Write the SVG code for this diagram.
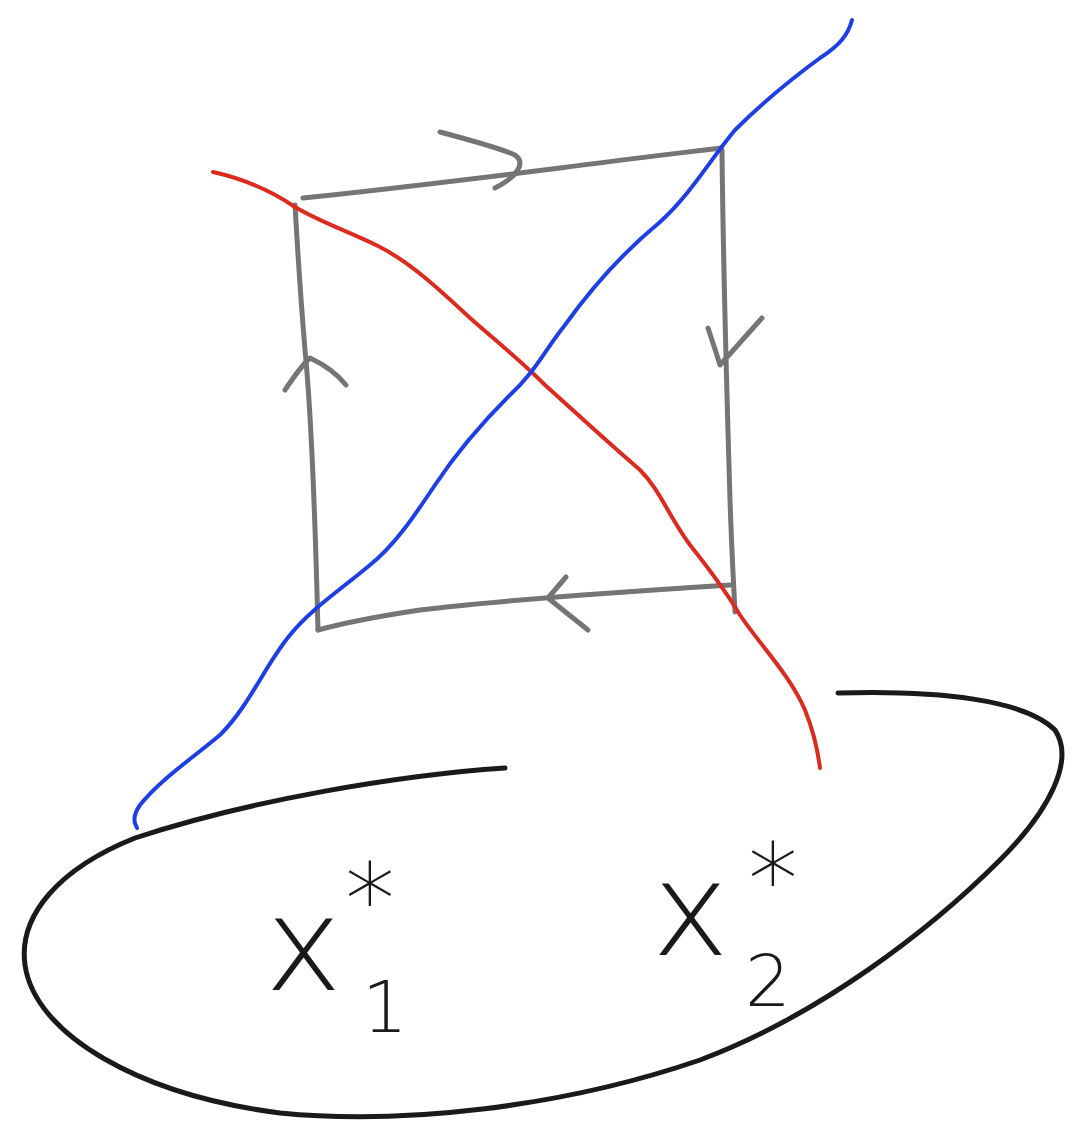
<svg xmlns="http://www.w3.org/2000/svg" width="1072" height="1125" viewBox="0 0 1072 1125">
<style>
.g{fill:none;stroke:#757575;stroke-width:5;stroke-linecap:round;stroke-linejoin:round}
.r{fill:none;stroke:#dd2a1e;stroke-width:4;stroke-linecap:round;stroke-linejoin:round}
.b{fill:none;stroke:#1f3fe6;stroke-width:4;stroke-linecap:round;stroke-linejoin:round}
.k{fill:none;stroke:#1a1a1a;stroke-width:5;stroke-linecap:round;stroke-linejoin:round}
.t{font-family:"DejaVu Sans","Liberation Sans",sans-serif;font-weight:200;fill:#1a1a1a}
</style>
<rect width="1072" height="1125" fill="#ffffff"/>
<g id="region">
<path class="k" d="M505,768 C400,775 250,800 135,838 C60,868 18,915 25,965 C35,1035 140,1095 280,1113 C400,1125 560,1108 700,1060 C820,1015 930,930 1000,860 C1050,810 1075,760 1055,730 C1025,700 940,690 838,693"/>
</g>
<g id="loop">
<path class="g" d="M303,198 C400,188 480,178 560,168 C620,160 680,153 721,148"/>
<path class="g" d="M722,150 C723,250 727,400 730,500 C732,560 734,590 735,612"/>
<path class="g" d="M730,585 C620,592 500,600 420,610 C380,616 340,624 318,630"/>
<path class="g" d="M318,630 C316,550 312,420 305,350 C300,290 297,240 295,205"/>
<path class="g" d="M440,132 C470,140 500,148 515,155 C525,162 520,175 495,188"/>
<path class="g" d="M708,328 C712,340 716,352 720,365 L762,318"/>
<path class="g" d="M285,390 C295,375 302,365 310,358 C325,365 338,375 346,385"/>
<path class="g" d="M566,577 L548,598 L588,630"/>
</g>
<g id="curves">
<path class="r" d="M213,172 C240,178 270,190 295,207 C320,222 350,232 378,246 C410,262 440,290 470,318 C495,340 520,360 545,385 C575,412 605,440 640,470 C660,490 668,515 690,545 C710,570 725,590 740,615 C760,645 790,675 805,710 C815,735 818,752 820,768"/>
<path class="b" d="M852,20 C848,35 840,45 820,58 C790,80 760,105 735,130 C710,160 690,195 660,222 C620,255 590,290 565,325 C545,350 535,372 510,395 C480,425 455,455 435,485 C415,515 395,545 370,565 C340,590 310,610 290,635 C265,665 250,705 220,735 C190,760 160,780 140,805 C133,815 133,822 137,828"/>
</g>
<g id="x1">
<text class="t" x="265" y="990" font-size="130">x</text>
<text class="t" x="362" y="1032" font-size="72">1</text>
<text class="t" x="345" y="935" font-size="100">*</text>
</g>
<g id="x2">
<text class="t" x="652" y="955" font-size="130">x</text>
<text class="t" x="745" y="1006" font-size="72">2</text>
<text class="t" x="748" y="915" font-size="100">*</text>
</g>
</svg>
